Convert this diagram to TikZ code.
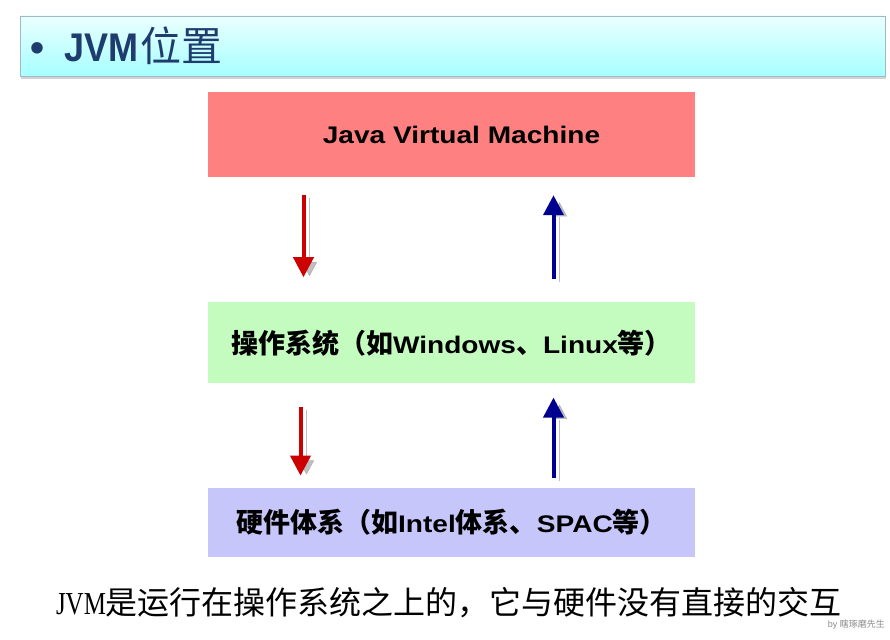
\documentclass[tikz,border=0pt]{standalone}
\usepackage{fontspec}
\setmainfont{Liberation Sans}
\newfontfamily\latfont[FakeStretch=1.17]{Liberation Sans}
\newfontfamily\cjkfont{Noto Sans CJK SC}
\newfontfamily\headfont[FakeStretch=0.9]{Liberation Sans}
\newfontfamily\serlat[FakeStretch=0.78]{Liberation Serif}
\usepackage{xcolor}
\usetikzlibrary{arrows.meta,positioning,shadows}

\definecolor{jvmred}{HTML}{FF8080}
\definecolor{osgreen}{HTML}{C4FCC0}
\definecolor{hwblue}{HTML}{C6C6FA}
\definecolor{headblue}{HTML}{1F3C6E}
\definecolor{arrred}{HTML}{CC0000}
\definecolor{arrblue}{HTML}{000090}

\newcommand{\zhtxt}[1]{{\cjkfont\fontsize{27}{30}\selectfont #1}}
\newcommand{\entxt}[1]{{\latfont #1}}

\begin{document}
\begin{tikzpicture}[
  x=1pt, y=-1pt,
  layer/.style={minimum width=487pt, inner sep=0pt, align=center,
    font=\fontsize{24}{28}\selectfont\bfseries},
  downarr/.style={draw=arrred, line width=4pt,
    -{Triangle[width=20pt,length=20pt]},
    preaction={draw=black!50, opacity=0.5, transform canvas={xshift=6pt,yshift=-3pt}}},
  uparr/.style={draw=arrblue, line width=4pt,
    -{Triangle[width=20pt,length=20pt]},
    preaction={draw=black!50, opacity=0.5, transform canvas={xshift=6pt,yshift=-3pt}}},
]
\useasboundingbox[fill=white] (0,0) rectangle (890,639);

% Title bar
\node[minimum width=865pt, minimum height=60pt, inner sep=0pt,
  top color=cyan!8, bottom color=cyan!35!white, draw=cyan!30!gray!70,
  drop shadow={shadow xshift=1pt, shadow yshift=-3pt, opacity=0.35}]
  (bar) at (452.5,46) {};
\node[anchor=west, text=headblue, inner sep=0pt] (head) at ([xshift=10pt]bar.west)
  {\fontsize{40}{46}\selectfont\bfseries\textbullet\hspace{20pt}{\headfont JVM}\hspace{2pt}{\cjkfont\mdseries\fontsize{41}{46}\selectfont 位置}};

% Layers
\node[layer, fill=jvmred, minimum height=85pt] (jvm) at (451.5,134.5)
  {\hspace{20pt}\entxt{Java Virtual Machine}};
\node[layer, fill=osgreen, minimum height=81pt, below=125pt of jvm] (os)
  {\zhtxt{操作系统（如}\entxt{Windows}\zhtxt{、}\entxt{Linux}\zhtxt{等）}};
\node[layer, fill=hwblue, minimum height=69pt, below=104pt of os] (hw)
  {\zhtxt{硬件体系（如}\entxt{Intel}\zhtxt{体系、}\entxt{SPAC}\zhtxt{等）}};

% Arrows between layers
\draw[downarr, shorten <=18pt, shorten >=25pt] ([xshift=-148pt]jvm.south) -- ([xshift=-148pt]os.north);
\draw[uparr, shorten <=23pt, shorten >=18pt] ([xshift=102pt]os.north) -- ([xshift=102pt]jvm.south);
\draw[downarr, shorten <=23pt, shorten >=12pt] ([xshift=-151pt]os.south) -- ([xshift=-151pt]hw.north);
\draw[uparr, shorten <=10pt, shorten >=14pt] ([xshift=102pt]hw.north) -- ([xshift=102pt]os.south);

% Caption
\node[inner sep=0pt] (note) at (449,603)
  {\fontsize{32}{36}\selectfont{\serlat JVM}{\cjkfont 是运行在操作系统之上的，它与硬件没有直接的交互}};
\node[anchor=east, inner sep=0pt, text=black!45] (sign) at (885,625)
  {\fontsize{9}{10}\selectfont by {\cjkfont 瞎琢磨先生}};
\end{tikzpicture}
\end{document}
